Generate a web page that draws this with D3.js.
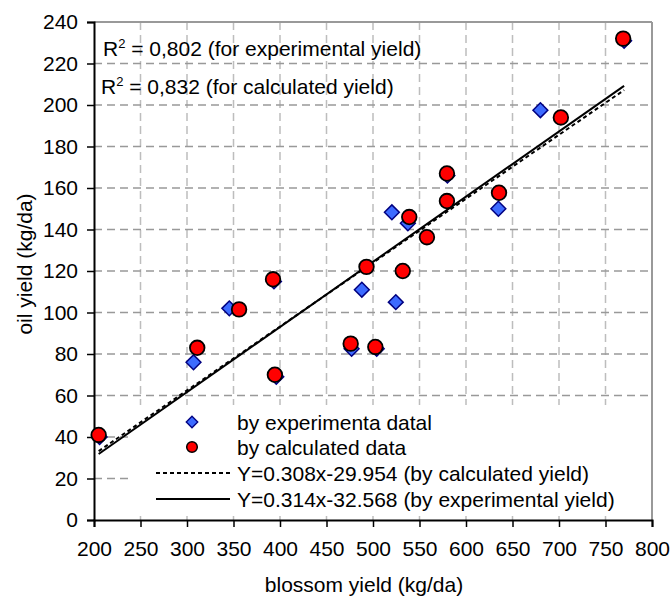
<!DOCTYPE html>
<html>
<head>
<meta charset="utf-8">
<script src="https://cdn.jsdelivr.net/npm/d3@7"></script>
<style>
  body { margin: 0; background: #fff; }
  svg { display: block; font-family: "Liberation Sans", Arial, sans-serif; }
</style>
</head>
<body>
<div id="plot"></div>
<script>
// blossom yield vs oil yield
const expX = [206, 307, 345.5, 393.5, 396, 477, 488, 504, 524.5, 520.3, 537.5, 580, 634.8, 680, 770];
const expY = [40, 76, 102, 115, 69, 82.5, 111, 82.5, 105, 148.3, 143, 166, 150, 197.5, 231];
const calcX = [205, 311, 356, 392.5, 394.5, 476, 493, 502.5, 532, 539, 558, 579.5, 579.5, 635.5, 702, 769];
const calcY = [41, 83, 101.5, 116, 70, 85, 122, 83.4, 120, 146, 136.3, 167, 153.7, 157.7, 194, 232];

// trend lines: [slope, intercept]
const fitCalc = [0.308, -29.954];
const fitExp = [0.314, -32.568];

const xTicks = [200, 250, 300, 350, 400, 450, 500, 550, 600, 650, 700, 750, 800];
const yTicks = [0, 20, 40, 60, 80, 100, 120, 140, 160, 180, 200, 220, 240];

const legendLabels = [
  'by experimenta datal',
  'by calculated data',
  'Y=0.308x-29.954 (by calculated yield)',
  'Y=0.314x-32.568 (by experimental yield)',
];

const W = 671, H = 597;
const margin = { top: 22, right: 19, bottom: 77, left: 94 };
const width = W - margin.left - margin.right;
const height = H - margin.top - margin.bottom;

const svg = d3.select('#plot').append('svg').attr('width', W).attr('height', H);
const g = svg.append('g').attr('transform', `translate(${margin.left},${margin.top})`);

const x = d3.scaleLinear().domain([200, 800]).range([0, width]);
const y = d3.scaleLinear().domain([0, 240]).range([height, 0]);

// grid
g.append('g').selectAll('line').data(xTicks.slice(1, -1)).enter().append('line')
  .attr('x1', (d) => x(d)).attr('x2', (d) => x(d)).attr('y1', 0).attr('y2', height)
  .attr('stroke', '#bdbdbd').attr('stroke-width', 1.5).attr('stroke-dasharray', '8,5');
g.append('g').selectAll('line').data(yTicks.slice(1, -1)).enter().append('line')
  .attr('y1', (d) => y(d)).attr('y2', (d) => y(d)).attr('x1', 0).attr('x2', width)
  .attr('stroke', '#999').attr('stroke-width', 1.5).attr('stroke-dasharray', '8,5');

// frame top/right
g.append('line').attr('x1', 0).attr('x2', width).attr('y1', 0).attr('y2', 0).attr('stroke', '#999').attr('stroke-width', 2);
g.append('line').attr('x1', width).attr('x2', width).attr('y1', 0).attr('y2', height).attr('stroke', '#999').attr('stroke-width', 2);

// legend box (covers grid)
const lg = { x: 133 - margin.left, y: 405 - margin.top, w: 648 - 133, h: 515 - 405 };
g.append('rect').attr('x', lg.x).attr('y', lg.y).attr('width', lg.w).attr('height', lg.h).attr('fill', '#fff');

// axes
const xAxis = g.append('g').attr('transform', `translate(0,${height})`)
  .call(d3.axisBottom(x).tickValues(xTicks).tickSize(7).tickPadding(14));
const yAxis = g.append('g').call(d3.axisLeft(y).tickValues(yTicks).tickSize(7).tickPadding(9));
[xAxis, yAxis].forEach((a) => {
  a.select('.domain').attr('stroke', '#000').attr('stroke-width', 2);
  a.selectAll('.tick line').attr('stroke', '#000').attr('stroke-width', 1.5);
  a.selectAll('.tick text').attr('fill', '#000').style('font-size', '21px').style('font-family', '"Liberation Sans", Arial, sans-serif');
});

// trend lines
const xr = [d3.min(calcX.concat(expX)), d3.max(calcX.concat(expX))];
const line = d3.line().x((d) => x(d[0])).y((d) => y(d[1]));
g.append('path').datum(xr.map((v) => [v, fitCalc[0] * v + fitCalc[1]])).attr('d', line)
  .attr('fill', 'none').attr('stroke', '#000').attr('stroke-width', 2).attr('stroke-dasharray', '4,3');
g.append('path').datum(xr.map((v) => [v, fitExp[0] * v + fitExp[1]])).attr('d', line)
  .attr('fill', 'none').attr('stroke', '#000').attr('stroke-width', 2);

// points
const diamond = d3.symbol().type(d3.symbolDiamond2).size(140);
g.append('g').selectAll('path').data(expX.map((v, i) => [v, expY[i]])).enter().append('path')
  .attr('d', diamond).attr('transform', (d) => `translate(${x(d[0])},${y(d[1])})`)
  .attr('fill', '#3d6bff').attr('stroke', '#000080').attr('stroke-width', 1.5);
g.append('g').selectAll('circle').data(calcX.map((v, i) => [v, calcY[i]])).enter().append('circle')
  .attr('cx', (d) => x(d[0])).attr('cy', (d) => y(d[1])).attr('r', 7.3)
  .attr('fill', '#ff0000').attr('stroke', '#000').attr('stroke-width', 1.8);

// legend content
const leg = svg.append('g');
const rowY = [422, 447, 473, 499];
leg.append('path').attr('d', d3.symbol().type(d3.symbolDiamond2).size(85)).attr('transform', `translate(192,${rowY[0]})`)
  .attr('fill', '#3d6bff').attr('stroke', '#000080').attr('stroke-width', 1.3);
leg.append('circle').attr('cx', 192).attr('cy', rowY[1]).attr('r', 5.3).attr('fill', '#ff0000').attr('stroke', '#000').attr('stroke-width', 1.5);
leg.append('line').attr('x1', 156).attr('x2', 230).attr('y1', rowY[2]).attr('y2', rowY[2]).attr('stroke', '#000').attr('stroke-width', 2).attr('stroke-dasharray', '4,3');
leg.append('line').attr('x1', 156).attr('x2', 230).attr('y1', rowY[3]).attr('y2', rowY[3]).attr('stroke', '#000').attr('stroke-width', 2);
leg.selectAll('text').data(legendLabels).enter().append('text')
  .attr('x', 237).attr('y', (d, i) => rowY[i]).attr('dy', '0.36em')
  .style('font-size', '21px').attr('fill', '#000').text((d) => d);

// R² notes
const r2 = [
  { x: 103, y: 56, v: '0,802', t: 'experimental' },
  { x: 101, y: 94, v: '0,832', t: 'calculated' },
];
r2.forEach((d) => {
  const t = svg.append('text').attr('x', d.x).attr('y', d.y).style('font-size', '21px').attr('fill', '#000');
  t.append('tspan').text('R');
  t.append('tspan').attr('dy', -8).style('font-size', '13px').text('2');
  t.append('tspan').attr('dy', 8).text(` = ${d.v} (for ${d.t} yield)`);
});

// axis titles
svg.append('text').attr('x', 364).attr('y', 592).attr('text-anchor', 'middle').style('font-size', '21px').text('blossom yield (kg/da)');
svg.append('text').attr('transform', 'translate(32,264) rotate(-90)').attr('text-anchor', 'middle').style('font-size', '21px').text('oil yield (kg/da)');
</script>
</body>
</html>
